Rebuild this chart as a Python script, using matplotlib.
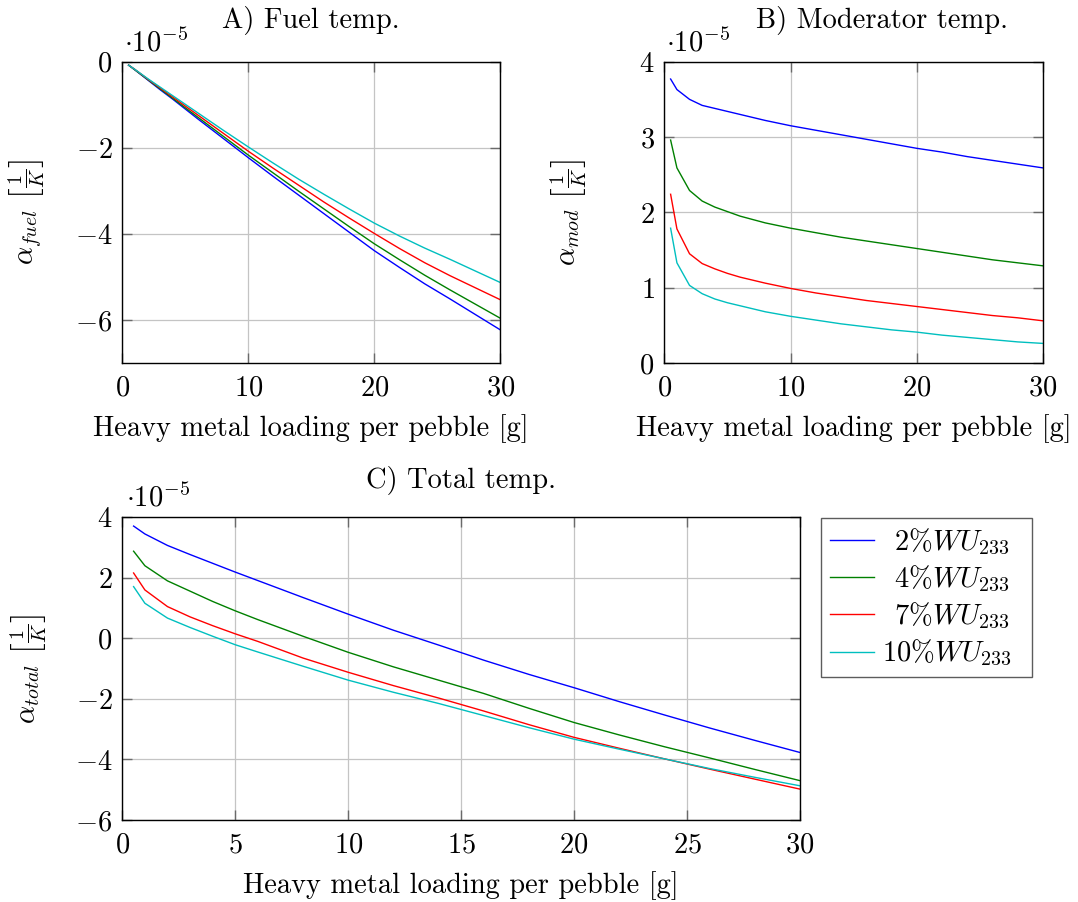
import matplotlib
matplotlib.use("Agg")
import matplotlib.pyplot as plt
from matplotlib.ticker import FuncFormatter, FixedLocator

plt.rcParams['font.family'] = ['cmr10', 'DejaVu Serif']
plt.rcParams['mathtext.fontset'] = 'cm'
plt.rcParams['axes.unicode_minus'] = False

# Heavy metal loading per pebble [g]
loading = [0.5, 1, 2, 3, 4, 5, 6, 8, 10, 12, 14, 16, 18, 20, 22, 24, 26, 28, 30]

# Series labels / colours
labels = [r'$\enspace2\%WU_{233}$  ', r'$\enspace4\%WU_{233}$  ',
          r'$\enspace7\%WU_{233}$  ', r'$10\%WU_{233}$  ']
colors = ['#0000ff', '#008000', '#ff0000', '#00bfbf']

# A) Fuel temperature coefficient (x 1e-5 1/K)
fuel_2 = [-0.08, -0.19, -0.42, -0.65, -0.87, -1.10, -1.33, -1.78, -2.23, -2.67,
          -3.10, -3.53, -3.96, -4.39, -4.78, -5.16, -5.51, -5.87, -6.23]
fuel_4 = [-0.08, -0.19, -0.41, -0.63, -0.85, -1.07, -1.29, -1.73, -2.17, -2.59,
          -3.01, -3.42, -3.83, -4.23, -4.60, -4.96, -5.30, -5.63, -5.96]
fuel_7 = [-0.08, -0.18, -0.40, -0.61, -0.82, -1.03, -1.24, -1.66, -2.08, -2.48,
          -2.87, -3.26, -3.63, -3.99, -4.34, -4.67, -4.97, -5.25, -5.53]
fuel_10 = [-0.08, -0.18, -0.39, -0.59, -0.79, -0.99, -1.19, -1.59, -1.98, -2.36,
           -2.73, -3.08, -3.42, -3.75, -4.05, -4.33, -4.59, -4.86, -5.13]

# B) Moderator temperature coefficient (x 1e-5 1/K)
mod_2 = [3.77, 3.63, 3.50, 3.42, 3.38, 3.34, 3.30, 3.22, 3.15, 3.09,
         3.03, 2.97, 2.91, 2.85, 2.80, 2.74, 2.69, 2.64, 2.59]
mod_4 = [2.96, 2.59, 2.29, 2.15, 2.07, 2.01, 1.95, 1.86, 1.79, 1.73,
         1.67, 1.62, 1.57, 1.52, 1.47, 1.42, 1.37, 1.33, 1.29]
mod_7 = [2.24, 1.78, 1.45, 1.32, 1.25, 1.19, 1.14, 1.06, 0.99, 0.93,
         0.88, 0.83, 0.79, 0.75, 0.71, 0.67, 0.63, 0.60, 0.56]
mod_10 = [1.79, 1.33, 1.03, 0.92, 0.85, 0.80, 0.76, 0.68, 0.62, 0.57,
          0.52, 0.48, 0.44, 0.41, 0.37, 0.34, 0.31, 0.28, 0.26]

# C) Total temperature coefficient (x 1e-5 1/K)
total_2 = [3.71, 3.45, 3.07, 2.77, 2.48, 2.19, 1.91, 1.35, 0.80, 0.27,
           -0.22, -0.72, -1.19, -1.63, -2.09, -2.53, -2.96, -3.37, -3.77]
total_4 = [2.88, 2.40, 1.90, 1.56, 1.22, 0.91, 0.62, 0.07, -0.46, -0.94,
           -1.38, -1.82, -2.31, -2.78, -3.19, -3.58, -3.95, -4.33, -4.70]
total_7 = [2.16, 1.60, 1.05, 0.71, 0.42, 0.15, -0.10, -0.65, -1.12, -1.56,
           -1.97, -2.40, -2.85, -3.27, -3.63, -3.98, -4.32, -4.65, -4.98]
total_10 = [1.71, 1.16, 0.67, 0.36, 0.07, -0.21, -0.45, -0.92, -1.38, -1.78,
            -2.15, -2.55, -2.95, -3.33, -3.66, -3.98, -4.30, -4.59, -4.87]

xticks_ab = [0, 10, 20, 30]
xticks_c = [0, 5, 10, 15, 20, 25, 30]
yticks_a = [-6, -4, -2, 0]
yticks_b = [0, 1, 2, 3, 4]
yticks_c = [-6, -4, -2, 0, 2, 4]

FS = 20.5
W, H = 1078, 902
fig = plt.figure(figsize=(W / 100, H / 100), dpi=100)

def box(l, r, t, b):
    return [l / W, 1 - b / H, (r - l) / W, (b - t) / H]

axA = fig.add_axes(box(122.3, 500.3, 61.7, 363))
axB = fig.add_axes(box(664.3, 1043, 61.7, 363))
axC = fig.add_axes(box(122.3, 800, 517.3, 820))

fmt = FuncFormatter(lambda v, p: r'$%g$' % v)

def style(ax, xt, yt, xlim, ylim, title, ylabel, ylx, tpad, tx):
    ax.set_xlim(*xlim)
    ax.set_ylim(*ylim)
    ax.xaxis.set_major_locator(FixedLocator(xt))
    ax.yaxis.set_major_locator(FixedLocator(yt))
    ax.xaxis.set_major_formatter(fmt)
    ax.yaxis.set_major_formatter(fmt)
    ax.grid(True, color='#c4c4c4', lw=0.9)
    ax.set_axisbelow(True)
    ax.tick_params(direction='in', length=7, width=1.0, color='#6a6a6a',
                   top=True, right=True, labelsize=FS, pad=9)
    ax.tick_params(axis='y', pad=7)
    for s in ax.spines.values():
        s.set_linewidth(1.0)
        s.set_color('black')
    t = ax.set_title(title, fontsize=FS, pad=tpad)
    t.set_x(tx)
    ax.set_xlabel('Heavy metal loading per pebble [g]', fontsize=FS, labelpad=9)
    ax.set_ylabel(ylabel, fontsize=FS)
    ax.yaxis.set_label_coords(ylx, 0.5)
    ax.text(0.005, 1.035, r'$\cdot 10^{-5}$', transform=ax.transAxes,
            fontsize=FS, ha='left', va='baseline')

fuel = [fuel_2, fuel_4, fuel_7, fuel_10]
mod = [mod_2, mod_4, mod_7, mod_10]
total = [total_2, total_4, total_7, total_10]

for ys, c in zip(fuel, colors):
    axA.plot(loading, ys, color=c, lw=1.0)
for ys, c in zip(mod, colors):
    axB.plot(loading, ys, color=c, lw=1.0)
lines = []
for ys, c, lab in zip(total, colors, labels):
    ln, = axC.plot(loading, ys, color=c, lw=1.0, label=lab)
    lines.append(ln)

style(axA, xticks_ab, yticks_a, (0, 30), (-7, 0), 'A) Fuel temp.',
      r'$\alpha_{fuel}\ \left[\frac{1}{K}\right]$', -0.198, 24, 0.5)
style(axB, xticks_ab, yticks_b, (0, 30), (0, 4), 'B) Moderator temp.',
      r'$\alpha_{mod}\ \left[\frac{1}{K}\right]$', -0.198, 24, 0.576)
style(axC, xticks_c, yticks_c, (0, 30), (-6, 4), 'C) Total temp.',
      r'$\alpha_{total}\ \left[\frac{1}{K}\right]$', -0.108, 21, 0.5)

leg = fig.legend(handles=lines, loc='upper left',
                 bbox_to_anchor=(821 / W, 1 - 518 / H), borderaxespad=0,
                 fontsize=FS, frameon=True, fancybox=False,
                 handlelength=1.55, handletextpad=0.3, borderpad=0.3,
                 labelspacing=0.25)
leg.get_frame().set_edgecolor('#333333')
leg.get_frame().set_linewidth(1.0)

fig.savefig('out.png', dpi=100)
